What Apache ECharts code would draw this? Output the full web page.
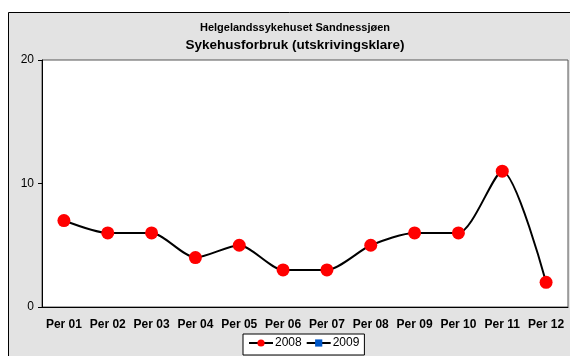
<!DOCTYPE html>
<html>
<head>
<meta charset="utf-8">
<script src="https://cdn.jsdelivr.net/npm/echarts@6/dist/echarts.min.js"></script>
<style>
  html, body { margin: 0; padding: 0; background: #ffffff; }
  #chart { width: 570px; height: 356px; }
</style>
</head>
<body>
<div id="chart"></div>
<script>
// Periods and yearly series
const periods = ['Per 01', 'Per 02', 'Per 03', 'Per 04', 'Per 05', 'Per 06',
                 'Per 07', 'Per 08', 'Per 09', 'Per 10', 'Per 11', 'Per 12'];
const values2008 = [7, 6, 6, 4, 5, 3, 3, 5, 6, 6, 11, 2];
const values2009 = [];
const yTicks = [0, 10, 20];

const font = '"Liberation Sans", Arial, sans-serif';
const chart = echarts.init(document.getElementById('chart'), null, { renderer: 'canvas' });

chart.setOption({
  animation: false,
  backgroundColor: '#ffffff',
  graphic: [{
    type: 'rect',
    z: -10,
    shape: { x: 8.5, y: 12.5, width: 580, height: 360 },
    style: { fill: '#e3e3e3', stroke: '#000000', lineWidth: 1 }
  }],
  title: [
    {
      text: 'Helgelandssykehuset Sandnessjøen',
      left: 290, textAlign: 'center', top: 17,
      textStyle: { fontFamily: font, fontSize: 11, fontWeight: 'bold', color: '#000' }
    },
    {
      text: 'Sykehusforbruk (utskrivingsklare)',
      left: 290, textAlign: 'center', top: 33,
      textStyle: { fontFamily: font, fontSize: 13.5, fontWeight: 'bold', color: '#000' }
    }
  ],
  grid: {
    left: 42, top: 60, width: 526, height: 247,
    show: true, backgroundColor: '#ffffff', borderColor: '#555555', borderWidth: 1
  },
  legend: {
    top: 334, left: 243,
    backgroundColor: '#ffffff', borderColor: '#000000', borderWidth: 1,
    padding: [3, 5, 6, 5], itemGap: 4, itemWidth: 24, itemHeight: 9,
    textStyle: { fontFamily: font, fontSize: 12, color: '#000', padding: [0, 0, 0, -3] },
    data: ['2008', '2009']
  },
  xAxis: {
    type: 'category',
    data: periods,
    boundaryGap: true,
    axisLine: { show: true, lineStyle: { color: '#000', width: 1 } },
    axisTick: { show: false },
    axisLabel: { fontFamily: font, fontSize: 12, fontWeight: 'bold', color: '#000', margin: 12, interval: 0 }
  },
  yAxis: {
    type: 'value',
    min: yTicks[0], max: yTicks[yTicks.length - 1], interval: 10,
    axisLine: { show: true, lineStyle: { color: '#000', width: 1 } },
    axisTick: { show: true, length: 4, inside: false, lineStyle: { color: '#000' } },
    splitLine: { show: false },
    axisLabel: { fontFamily: font, fontSize: 12, color: '#000', margin: 8 }
  },
  series: [
    {
      name: '2008', type: 'line', data: values2008,
      smooth: 0.25,
      symbol: 'circle', symbolSize: 13,
      lineStyle: { color: '#000000', width: 2 },
      itemStyle: { color: '#ff0000' }
    },
    {
      name: '2009', type: 'line', data: values2009,
      symbol: 'rect', symbolSize: 9,
      lineStyle: { color: '#000000', width: 2 },
      itemStyle: { color: '#0057c8' }
    }
  ]
});
</script>
</body>
</html>
